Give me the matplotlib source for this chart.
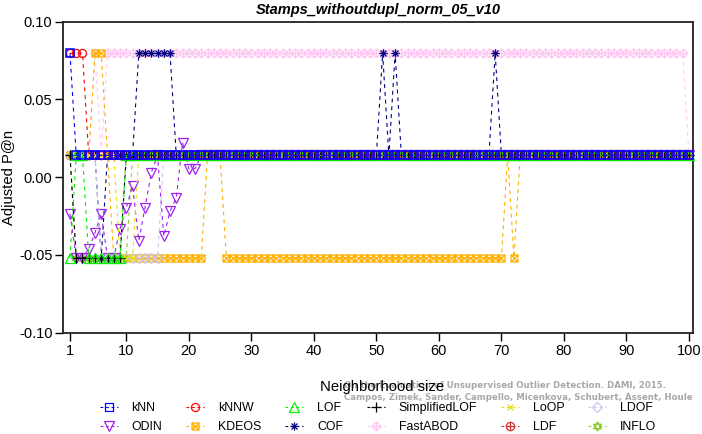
import matplotlib
matplotlib.use("Agg")
import matplotlib.pyplot as plt
import numpy as np
from matplotlib.lines import Line2D
from matplotlib.path import Path

# three adjusted P@n levels that most methods sit on
HI, MID, LO = 0.0797, 0.0140, -0.0518

neighbors = np.arange(1, 101)

# (value, run length), k = 1..100
knn_runs = [(HI, 1), (MID, 99)]
knnw_runs = [(HI, 3), (MID, 97)]
lof_runs = [(LO, 1), (MID, 2), (LO, 6), (MID, 91)]
slof_runs = [(MID, 1), (LO, 8), (MID, 91)]
loop_runs = [(MID, 8), (LO, 3), (MID, 89)]
ldof_runs = [(MID, 5), (LO, 10), (MID, 85)]
odin_runs = [(-0.0235, 1), (LO, 2), (-0.0460, 1), (-0.0357, 1), (-0.0235, 1), (LO, 2),
             (-0.0332, 1), (-0.0196, 1), (-0.0055, 1), (-0.0409, 1), (-0.0196, 1),
             (0.0029, 1), (MID, 1), (-0.0380, 1), (-0.0219, 1), (-0.0132, 1),
             (0.0222, 1), (0.0055, 2), (MID, 79)]
kdeos_runs = [(MID, 4), (HI, 2), (MID, 1), (LO, 15), (MID, 3), (LO, 45), (MID, 1),
              (LO, 1), (MID, 28)]
cof_runs = [(MID, 5), (LO, 1), (MID, 5), (HI, 6), (MID, 33), (HI, 1), (MID, 1), (HI, 1),
            (MID, 15), (HI, 1), (MID, 31)]
fastabod_runs = [(MID, 4), (HI, 1), (MID, 1), (HI, 93), (MID, 1)]
ldf_runs = [(MID, 100)]
inflo_runs = [(MID, 1), (LO, 9), (MID, 90)]

x_ticks = [1, 10, 20, 30, 40, 50, 60, 70, 80, 90, 100]
y_ticks = [-0.10, -0.05, 0.00, 0.05, 0.10]


def expand(runs):
    vals, counts = zip(*runs)
    return np.repeat(vals, counts)


def lines_path(segments):
    verts, codes = [], []
    for seg in segments:
        verts.extend(seg)
        codes.extend([Path.MOVETO] + [Path.LINETO] * (len(seg) - 1))
    return Path(verts, codes)


square = [(-1, -1), (1, -1), (1, 1), (-1, 1), (-1, -1)]
plus = [[(0, -1), (0, 1)], [(-1, 0), (1, 0)]]
t = np.linspace(0, 2 * np.pi, 33)
circle = list(zip(np.cos(t), np.sin(t)))

m_boxx = lines_path([square, [(-1, -1), (1, 1)], [(-1, 1), (1, -1)]])
m_aster = lines_path(plus + [[(-0.72, -0.72), (0.72, 0.72)], [(-0.72, 0.72), (0.72, -0.72)]])
m_diaplus = lines_path([[(0, -1), (1, 0), (0, 1), (-1, 0), (0, -1)]] + plus)
m_oplus = lines_path([circle] + plus)
m_david = lines_path([[(-0.87, -0.5), (0.87, -0.5), (0, 1), (-0.87, -0.5)],
                      [(-0.87, 0.5), (0.87, 0.5), (0, -1), (-0.87, 0.5)]])

# name, runs, colour, marker, marker size ; paper order (first one drawn on top)
methods = [
    ("kNN", knn_runs, "#0000FF", "s", 5.6),
    ("kNNW", knnw_runs, "#FF0000", "o", 5.8),
    ("LOF", lof_runs, "#00EE00", "^", 6.5),
    ("SimplifiedLOF", slof_runs, "#000000", "+", 6.5),
    ("LoOP", loop_runs, "#E8E000", "x", 5.0),
    ("LDOF", ldof_runs, "#C8C8F0", "D", 5.0),
    ("ODIN", odin_runs, "#A020F0", "v", 6.5),
    ("KDEOS", kdeos_runs, "#FFB000", m_boxx, 5.0),
    ("COF", cof_runs, "#000080", m_aster, 6.0),
    ("FastABOD", fastabod_runs, "#FFC8F2", m_diaplus, 6.5),
    ("LDF", ldf_runs, "#CC3333", m_oplus, 6.0),
    ("INFLO", inflo_runs, "#8CCC30", m_david, 6.5),
]

plt.rcParams["font.family"] = ["Liberation Sans", "DejaVu Sans"]

fig = plt.figure(figsize=(7.02, 4.34), dpi=100)
ax = fig.add_axes([63.3 / 702, 1 - 332.7 / 434, (693 - 63.3) / 702, (332.7 - 21.7) / 434])

handles = []
n = len(methods)
for i, (name, runs, color, marker, ms) in enumerate(methods):
    vals = expand(runs)
    mew = 1.1 if name == "kNN" else 0.9
    ax.plot(neighbors, vals, linestyle=(0, (3.5, 3.5)), linewidth=0.8, color=color,
            marker=marker, markersize=ms, markerfacecolor="none", markeredgecolor=color,
            markeredgewidth=mew, zorder=2 + (n - i) * 0.1, clip_on=False)
    handles.append(Line2D([], [], linestyle=(0, (2.5, 2.5)), linewidth=0.8, color=color,
                          marker=marker, markersize=ms, markerfacecolor="none",
                          markeredgecolor=color, markeredgewidth=0.9, label=name))

ax.set_xlim(-0.07, 100.64)
ax.set_ylim(-0.10, 0.10)
ax.set_xticks(x_ticks)
ax.set_yticks(y_ticks)
ax.set_yticklabels([f"{v:.2f}" for v in y_ticks])
ax.tick_params(direction="out", length=5.8, width=1.0, labelsize=10.5, pad=2.0)
for sp in ax.spines.values():
    sp.set_linewidth(1.3)
    sp.set_color("#222222")

ax.set_title("Stamps_withoutdupl_norm_05_v10", fontsize=10.5, fontweight="bold",
             fontstyle="italic", pad=5.5)
ax.set_xlabel("Neighborhood size", fontsize=10.7)
ax.xaxis.set_label_coords(0.506, -0.152)
ax.set_ylabel("Adjusted P@n", fontsize=10.7)
ax.yaxis.set_label_coords(-0.075, 0.5)

# citation watermark, sits behind the x label
wm = dict(fontsize=6.2, color="#A8A8A8", fontweight="bold", family="DejaVu Sans",
          ha="left", va="center", zorder=-1)
fig.text(344 / 702, 1 - 386 / 434,
         "On the Evaluation of Unsupervised Outlier Detection. DAMI, 2015.", **wm)
fig.text(344 / 702, 1 - 398 / 434,
         "Campos, Zimek, Sander, Campello, Micenkova, Schubert, Assent, Houle", **wm)

# legend reads row-wise in paper order; matplotlib fills columns first
half = n // 2
leg_handles = [handles[j * half + r] for r in range(half) for j in range(2)]
fig.legend(handles=leg_handles, ncol=6, loc="upper left", bbox_to_anchor=(100 / 702, 1 - 402 / 434),
           frameon=False, fontsize=8.9, handlelength=1.45, handletextpad=1.1,
           columnspacing=1.95, labelspacing=0.58, borderpad=0, borderaxespad=0, numpoints=1)

fig.savefig("out.png", dpi=100)
